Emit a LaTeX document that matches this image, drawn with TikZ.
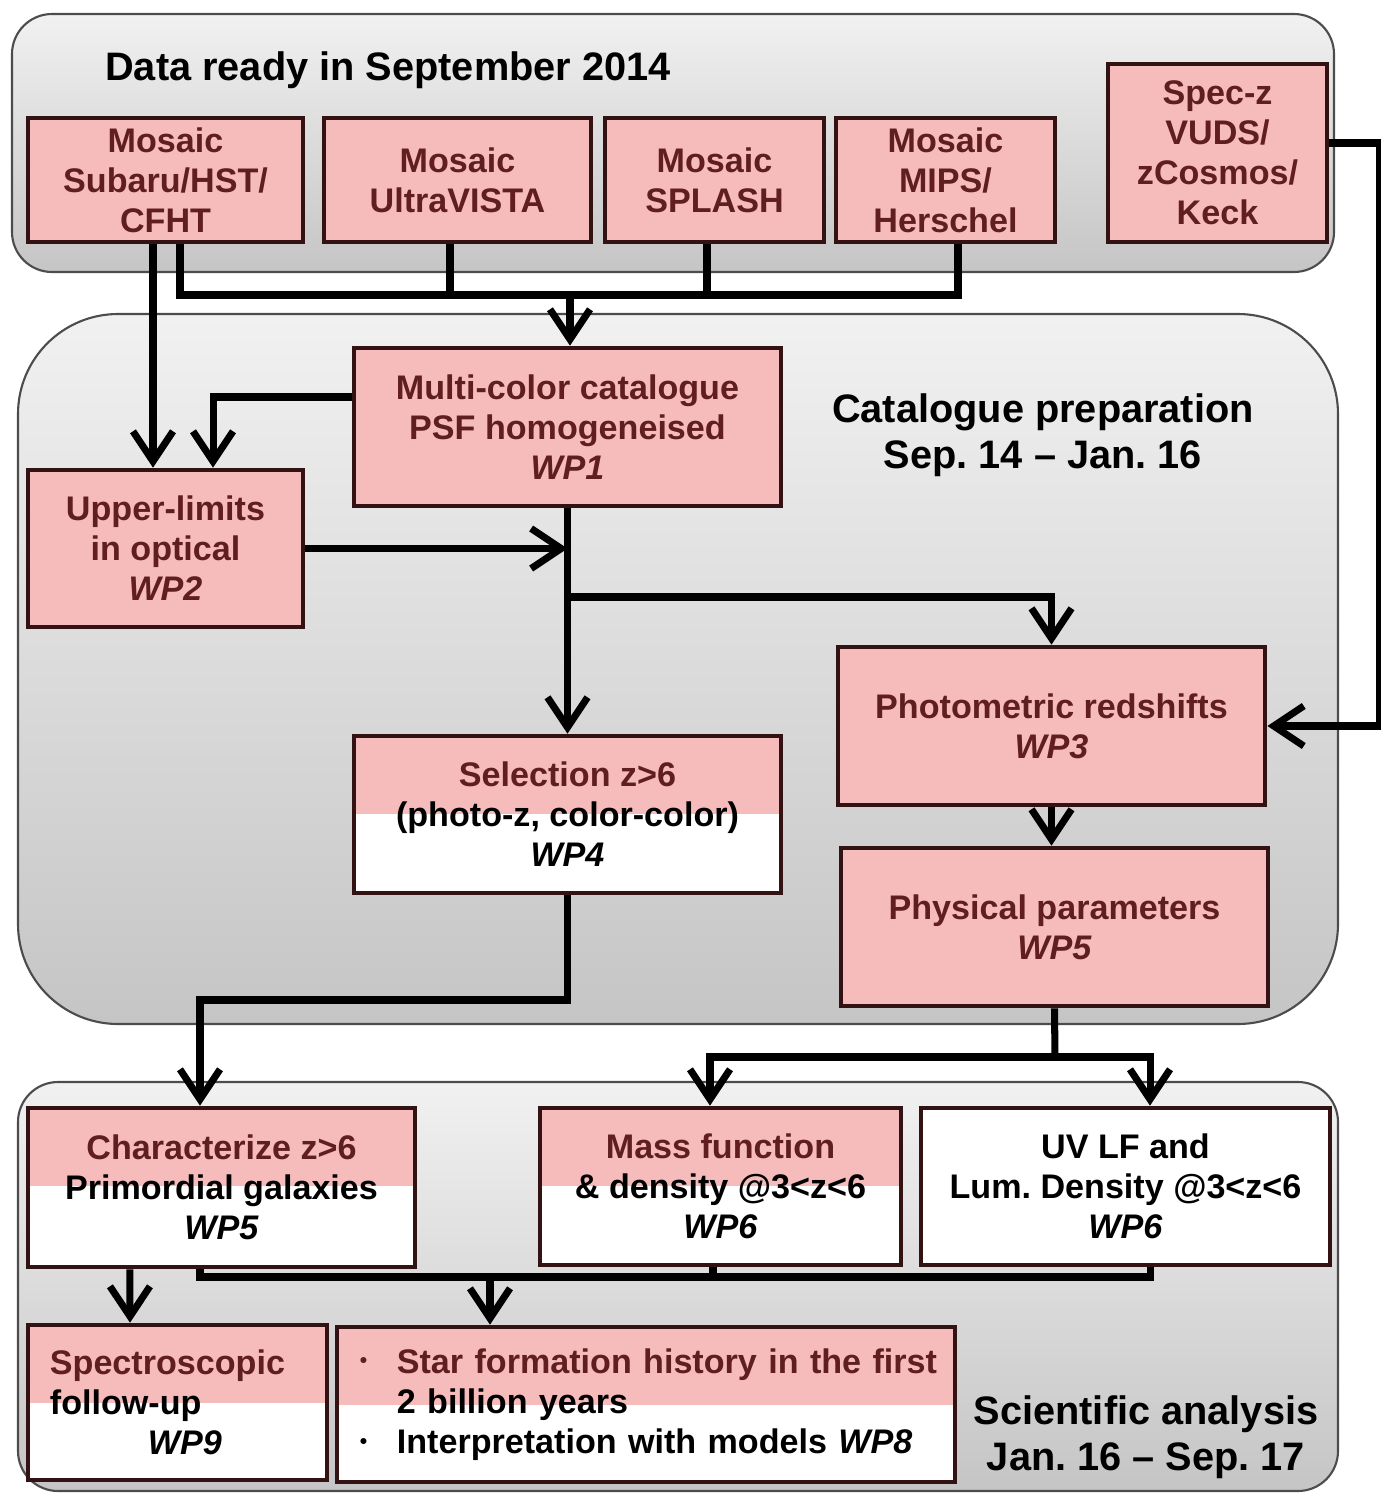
\documentclass[tikz,border=0pt]{standalone}
\usepackage{fontspec}
\setmainfont{Liberation Sans}
\usetikzlibrary{arrows.meta,positioning,calc}
\definecolor{boxpink}{RGB}{246,188,188}
\definecolor{boxedge}{RGB}{50,18,18}
\definecolor{wptext}{RGB}{96,30,30}
\definecolor{paneltop}{RGB}{241,241,241}
\definecolor{panelbot}{RGB}{197,197,197}
\newcommand{\smallbullet}{\makebox[0.37cm][l]{\raisebox{0.3ex}{\fontsize{6}{6}\selectfont\textbullet}}}
\frenchspacing

\begin{document}
\begin{tikzpicture}[x=0.01cm, y=-0.01cm,
  panel/.style={draw=black!70, line width=0.6pt, top color=paneltop, bottom color=panelbot},
  wpbox/.style={draw=boxedge, line width=1.3pt, fill=boxpink, align=center, inner sep=0pt, text=wptext, font=\fontsize{9.7}{11.4}\selectfont\bfseries},
  halfpink/.style={fill=white, text=black, path picture={\fill[boxpink] (path picture bounding box.north west) rectangle ([yshift=-0.78cm]path picture bounding box.north east);}},
  heading/.style={align=center, inner sep=0pt, font=\fontsize{11.3}{13.1}\selectfont\bfseries},
  link/.style={line width=2pt},
  arr/.style={link, -{Straight Barb[length=3mm,width=4mm]}}]
  \useasboundingbox (0,0) rectangle (1381,1493);

  % phases
  \draw[panel, rounded corners=0.4cm] (12,14) rectangle (1334,272);
  \draw[panel, rounded corners=1cm] (18,314) rectangle (1338,1024);
  \draw[panel, rounded corners=0.4cm] (18,1082) rectangle (1338,1491);

  \node[heading] (datalbl) at (388,70) {Data ready in September 2014};
  \node[heading] (catlbl) at (1043,435) {Catalogue preparation\\Sep. 14 -- Jan. 16};
  \node[heading] (scilbl) at (1146,1437) {Scientific analysis\\Jan. 16 -- Sep. 17};

  % data
  \node[wpbox, minimum width=2.75cm, minimum height=1.24cm] (subaru) at (165.5,180) {Mosaic\\Subaru/HST/\\CFHT};
  \node[wpbox, minimum width=2.67cm, minimum height=1.24cm] (vista) at (457.5,180) {Mosaic\\UltraVISTA};
  \node[wpbox, minimum width=2.19cm, minimum height=1.24cm] (splash) at (714.5,180) {Mosaic\\SPLASH};
  \node[wpbox, minimum width=2.19cm, minimum height=1.24cm] (mips) at (945.5,180) {Mosaic\\MIPS/\\Herschel};
  \node[wpbox, minimum width=2.19cm, minimum height=1.78cm] (specz) at (1217.5,153) {Spec-z\\VUDS/\\zCosmos/\\Keck};

  % catalogue
  \node[wpbox, minimum width=4.27cm, minimum height=1.58cm] (wp1) at (567.5,427) {Multi-color catalogue\\PSF homogeneised\\\textit{WP1}};
  \node[wpbox, minimum width=2.75cm, minimum height=1.57cm] (wp2) at (165.5,548.5) {Upper-limits\\in optical\\\textit{WP2}};
  \node[wpbox, minimum width=4.27cm, minimum height=1.58cm] (wp3) at (1051.5,726) {Photometric redshifts\\\textit{WP3}};
  \node[wpbox, halfpink, minimum width=4.27cm, minimum height=1.57cm] (wp4) at (567.5,814.5) {{\color{wptext}Selection z>6}\\(photo-z, color-color)\\\textit{WP4}};
  \node[wpbox, minimum width=4.27cm, minimum height=1.58cm] (wp5) at (1054.5,927) {Physical parameters\\\textit{WP5}};

  % analysis
  \node[wpbox, halfpink, minimum width=3.87cm, minimum height=1.59cm] (charz) at (221.5,1187.5) {{\color{wptext}Characterize z>6}\\Primordial galaxies\\\textit{WP5}};
  \node[wpbox, halfpink, minimum width=3.61cm, minimum height=1.57cm] (massfn) at (720.5,1186.5) {{\color{wptext}Mass function}\\\& density @3<z<6\\\textit{WP6}};
  \node[wpbox, fill=white, text=black, minimum width=4.09cm, minimum height=1.57cm] (uvlf) at (1125.5,1186.5) {UV LF and\\Lum. Density @3<z<6\\\textit{WP6}};
  \node[wpbox, halfpink, align=left, text width=2.55cm, minimum width=2.99cm, minimum height=1.55cm] (spec) at (177.5,1402.5) {{\color{wptext}Spectroscopic}\\follow-up\\\hspace*{0.98cm}\textit{WP9}};
  \node[wpbox, halfpink, align=left, text width=5.72cm, minimum width=6.18cm, minimum height=1.55cm] (sfh) at (646,1404.5) {\mbox{\color{wptext}\smallbullet Star formation history in the first}\\\hspace*{0.37cm}2 billion years\\\mbox{\smallbullet Interpretation with models \textit{WP8}}};

  % connectors
  \coordinate (topbus) at (570,295);
  \draw[link] ([xshift=1.45mm]subaru.south) |- (topbus) -| ([xshift=1.25mm]mips.south);
  \draw[link] ([xshift=-0.75mm]vista.south) |- (topbus);
  \draw[link] ([xshift=-0.75mm]splash.south) |- (topbus);
  \draw[arr] (topbus) -- (topbus |- wp1.north);
  \draw[arr] ([xshift=-1.25mm]subaru.south) -- ([xshift=-1.25mm]wp2.north);
  \draw[arr] ([yshift=3mm]wp1.west) -| ([xshift=4.75mm]wp2.north);
  \draw[arr] (wp1.south) -- (wp4.north);
  \coordinate (mergept) at (wp1.south |- wp2.east);
  \draw[arr] (wp2.east) -- (mergept);
  \coordinate (splitpt) at (567.5,597);
  \draw[arr] (splitpt) -| (wp3.north);
  \draw[arr] ([yshift=1mm]specz.east) -- ++(50,0) |- (wp3.east);
  \draw[arr] (wp3.south) -- (wp3.south |- wp5.north);

  \coordinate (wp4turn) at (200,1000);
  \draw[arr] (wp4.south) |- (wp4turn) -- (wp4turn |- charz.north);
  \coordinate (wp5bus) at (1055,1057);
  \draw[link] (wp5.south) -- (wp5bus);
  \draw[arr] (wp5bus) -| ([xshift=-1.05mm]massfn.north);
  \draw[arr] (wp5bus) -| ([xshift=2.45mm]uvlf.north);

  \draw[arr] ([xshift=-9.15mm]charz.south) -- ([xshift=-4.75mm]spec.north);
  \coordinate (botbus) at (490,1277);
  \draw[link] ([xshift=-2.15mm]charz.south) |- (botbus) -| ([xshift=2.45mm]uvlf.south);
  \draw[link] ([xshift=-0.75mm]massfn.south) |- (botbus);
  \draw[arr] (botbus) -- (botbus |- sfh.north);
\end{tikzpicture}
\end{document}
